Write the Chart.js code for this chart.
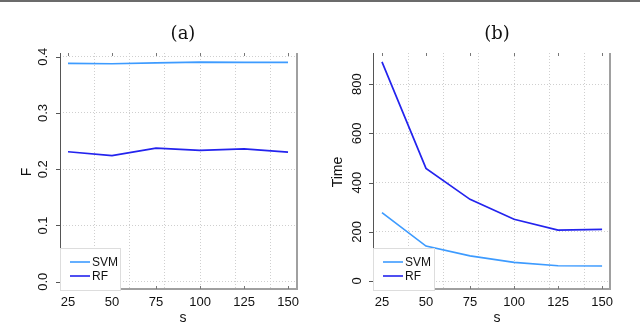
<!DOCTYPE html>
<html><head><meta charset="utf-8">
<script src="https://cdn.jsdelivr.net/npm/chart.js@4/dist/chart.umd.min.js"></script>
<style>
html,body{margin:0;padding:0;background:#fff;width:640px;height:323px;overflow:hidden;position:relative}
#bar{position:absolute;left:0;top:0;width:640px;height:2px;background:#6b6b6b}
.c{position:absolute;top:0}
</style></head><body>
<div id="bar"></div>
<canvas id="ca" class="c" width="320" height="323" style="left:0;width:320px;height:323px"></canvas>
<canvas id="cb" class="c" width="320" height="323" style="left:320px;width:320px;height:323px"></canvas>
<script>
const sValues = [25, 50, 75, 100, 125, 150];
const fSVM = [0.388, 0.3875, 0.389, 0.3905, 0.390, 0.390];
const fRF = [0.231, 0.224, 0.2375, 0.2335, 0.236, 0.2305];
const timeSVM = [278, 142, 102, 76, 62, 61];
const timeRF = [891, 458, 332, 251, 207, 210];
const sTicks = [25, 50, 75, 100, 125, 150];
const sGrid = [40, 60, 80, 100, 120, 140];
const fTicks = [0, 0.1, 0.2, 0.3, 0.4];
const fTickLabels = ['0.0', '0.1', '0.2', '0.3', '0.4'];
const timeTicks = [0, 200, 400, 600, 800];
const timeTickLabels = ['0', '200', '400', '600', '800'];
const seriesNames = ['SVM', 'RF'];
const seriesColors = ['#3d9bff', '#2323ee'];

function pts(ys){ return sValues.map((s,i)=>({x:s,y:ys[i]})); }

function makePanel(id, o){
  const deco = {
    id:'deco',
    afterDraw(chart){
      const ctx = chart.ctx, a = chart.chartArea, xs = chart.scales.x, ys = chart.scales.y;
      ctx.save();
      // left axis
      ctx.strokeStyle = '#555'; ctx.lineWidth = 1;
      ctx.beginPath(); ctx.moveTo(a.left+0.5, a.top); ctx.lineTo(a.left+0.5, a.bottom); ctx.stroke();
      // left ticks
      o.yTicks.forEach(v=>{ const y = Math.round(ys.getPixelForValue(v))+0.5;
        ctx.beginPath(); ctx.moveTo(a.left-4, y); ctx.lineTo(a.left, y); ctx.stroke(); });
      // bottom axis
      ctx.strokeStyle = '#808080'; ctx.lineWidth = 1.5;
      ctx.beginPath(); ctx.moveTo(a.left, a.bottom); ctx.lineTo(a.right, a.bottom); ctx.stroke();
      // right border
      ctx.strokeStyle = '#a0a0a0'; ctx.lineWidth = 2;
      ctx.beginPath(); ctx.moveTo(a.right, a.top); ctx.lineTo(a.right, a.bottom+1); ctx.stroke();
      // top and bottom ticks
      ctx.strokeStyle = '#777'; ctx.lineWidth = 1;
      sTicks.forEach(v=>{ const x = Math.round(xs.getPixelForValue(v))+0.5;
        ctx.beginPath(); ctx.moveTo(x, a.top); ctx.lineTo(x, a.top+3); ctx.stroke();
        ctx.beginPath(); ctx.moveTo(x, a.bottom-3); ctx.lineTo(x, a.bottom); ctx.stroke(); });
      // legend
      const lx = a.left, ly = a.bottom - 41, lw = o.legendW, lh = 42;
      ctx.fillStyle = '#fff'; ctx.fillRect(lx, ly, lw, lh);
      ctx.strokeStyle = '#dddddd'; ctx.lineWidth = 1;
      ctx.strokeRect(lx+0.5, ly+0.5, lw, lh);
      ctx.font = '12px "Liberation Sans", Arial, sans-serif';
      ctx.textBaseline = 'middle'; ctx.textAlign = 'left';
      seriesNames.forEach((n,i)=>{
        const yy = ly + 14 + i*14;
        ctx.strokeStyle = seriesColors[i]; ctx.lineWidth = 1.6;
        ctx.beginPath(); ctx.moveTo(lx+10, yy); ctx.lineTo(lx+30, yy); ctx.stroke();
        ctx.fillStyle = '#111'; ctx.fillText(n, lx+32, yy+1);
      });
      // x tick labels
      ctx.fillStyle = '#111';
      ctx.font = '13px "Liberation Sans", Arial, sans-serif';
      ctx.textAlign = 'center'; ctx.textBaseline = 'middle';
      sTicks.forEach(v=> ctx.fillText(String(v), xs.getPixelForValue(v), 302));
      // y tick labels rotated
      o.yTicks.forEach((v,i)=>{
        ctx.save(); ctx.translate(o.yLabX, ys.getPixelForValue(v)); ctx.rotate(-Math.PI/2);
        ctx.fillText(o.yTickLabels[i], 0, 0); ctx.restore();
      });
      // axis titles
      ctx.font = '14px "Liberation Sans", Arial, sans-serif';
      ctx.fillText('s', o.titleX, 318);
      ctx.save(); ctx.translate(o.yTitleX, 172); ctx.rotate(-Math.PI/2);
      ctx.fillText(o.yTitle, 0, 0); ctx.restore();
      // panel title
      ctx.font = '18px "DejaVu Serif", "Liberation Serif", serif';
      ctx.fillText(o.title, o.titleX, 34);
      ctx.restore();
    }
  };
  return new Chart(document.getElementById(id), {
    type:'line',
    data:{ datasets:[
      {label:seriesNames[0], data:pts(o.svm), borderColor:seriesColors[0], borderWidth:1.7, pointRadius:0, tension:0, fill:false},
      {label:seriesNames[1], data:pts(o.rf), borderColor:seriesColors[1], borderWidth:1.7, pointRadius:0, tension:0, fill:false}
    ]},
    options:{
      responsive:false, animation:false, devicePixelRatio:1,
      layout:{padding:o.pad},
      plugins:{legend:{display:false}, tooltip:{enabled:false}},
      scales:{
        x:{type:'linear', min:o.xmin, max:o.xmax,
           afterBuildTicks: s=>{ s.ticks = sGrid.map(v=>({value:v})); },
           ticks:{display:false}, grid:{color:'#cfcfcf', lineWidth:1, drawTicks:false},
           border:{display:false, dash:[1,2]}},
        y:{type:'linear', min:o.ymin, max:o.ymax,
           afterBuildTicks: s=>{ s.ticks = o.yTicks.map(v=>({value:v})); },
           ticks:{display:false}, grid:{color:'#cfcfcf', lineWidth:1, drawTicks:false},
           border:{display:false, dash:[1,2]}}
      }
    },
    plugins:[deco]
  });
}

makePanel('ca', {svm:fSVM, rf:fRF, yTicks:fTicks, yTickLabels:fTickLabels,
  pad:{left:60, right:23, top:53, bottom:34}, xmin:20.45, xmax:155.1, ymin:-0.013, ymax:0.4066,
  legendW:60, yLabX:43, yTitleX:27, yTitle:'F', title:'(a)', titleX:183});
makePanel('cb', {svm:timeSVM, rf:timeRF, yTicks:timeTicks, yTickLabels:timeTickLabels,
  pad:{left:53, right:30, top:53, bottom:34}, xmin:19.9, xmax:154.5, ymin:-32.5, ymax:927,
  legendW:61, yLabX:37, yTitleX:18, yTitle:'Time', title:'(b)', titleX:177});
</script>
</body></html>
